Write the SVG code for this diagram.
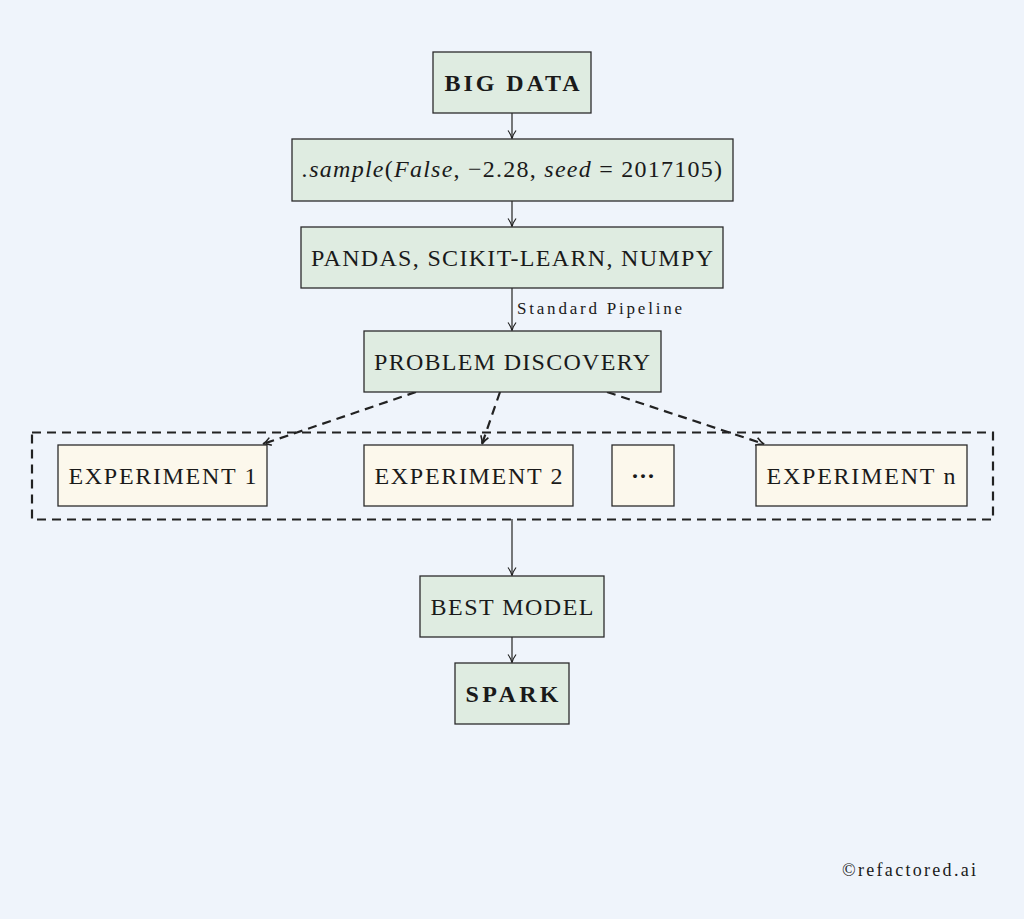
<svg xmlns="http://www.w3.org/2000/svg" width="1024" height="919" viewBox="0 0 1024 919">
<style>
.g{fill:#dfece1;stroke:#2b2b2b;stroke-width:1.3}
.c{fill:#fcf8ec;stroke:#2b2b2b;stroke-width:1.3}
.t{font-family:"Liberation Serif","DejaVu Serif",serif;font-size:24px;fill:#1a1a1a;text-anchor:middle}
.b{font-weight:bold}
.e{stroke:#222;stroke-width:1.2;fill:none}
.d{stroke:#222;stroke-width:2.2;fill:none;stroke-dasharray:9,6}
</style>
<defs>
<marker id="ar" viewBox="0 0 10 10" refX="9" refY="5" markerWidth="10" markerHeight="10" markerUnits="userSpaceOnUse" orient="auto">
<path d="M1,1 Q5,4 9,5 Q5,6 1,9" fill="none" stroke="#222" stroke-width="1.2"/>
</marker>
<marker id="ad" viewBox="0 0 10 10" refX="9" refY="5" markerWidth="10" markerHeight="10" markerUnits="userSpaceOnUse" orient="auto">
<path d="M1,1 Q5,4 9,5 Q5,6 1,9" fill="none" stroke="#222" stroke-width="1.6"/>
</marker>
</defs>
<rect width="1024" height="919" fill="#eff4fb"/>
<g id="connectors">
<line class="e" x1="512" y1="113" x2="512" y2="138.5" marker-end="url(#ar)"/>
<line class="e" x1="512" y1="201" x2="512" y2="226.5" marker-end="url(#ar)"/>
<line class="e" x1="512" y1="288" x2="512" y2="330.5" marker-end="url(#ar)"/>
<text x="517" y="314" textLength="165" lengthAdjust="spacing" style="font-family:'Liberation Serif','DejaVu Serif',serif;font-size:17px;fill:#1a1a1a">Standard Pipeline</text>
<line class="d" x1="416" y1="392" x2="263" y2="444" marker-end="url(#ad)"/>
<line class="d" x1="500" y1="392" x2="482" y2="444" marker-end="url(#ad)"/>
<line class="d" x1="607" y1="392" x2="764" y2="444" marker-end="url(#ad)"/>
<line class="e" x1="512" y1="519" x2="512" y2="575.5" marker-end="url(#ar)"/>
<line class="e" x1="512" y1="637" x2="512" y2="662.5" marker-end="url(#ar)"/>
</g>
<g id="container"><rect x="32" y="432.5" width="961" height="87" class="d"/></g>
<g id="bigdata"><rect class="g" x="433" y="52" width="158" height="61"/><text class="t b" x="512" y="90.5" textLength="135" lengthAdjust="spacing">BIG DATA</text></g>
<g id="sample"><rect class="g" x="292" y="139" width="441" height="62"/><text class="t" x="512" y="177" textLength="420" lengthAdjust="spacing"><tspan font-style="italic">.sample</tspan>(<tspan font-style="italic">False</tspan>, −2.28, <tspan font-style="italic">seed</tspan> = 2017105)</text></g>
<g id="pandas"><rect class="g" x="301" y="227" width="422" height="61"/><text class="t" x="512" y="265.5" textLength="402" lengthAdjust="spacing">PANDAS, SCIKIT-LEARN, NUMPY</text></g>
<g id="problem"><rect class="g" x="364" y="331" width="297" height="61"/><text class="t" x="512" y="369.5" textLength="276" lengthAdjust="spacing">PROBLEM DISCOVERY</text></g>
<g id="exp1"><rect class="c" x="58" y="445" width="209" height="61"/><text class="t" x="162.5" y="483.5" textLength="188" lengthAdjust="spacing">EXPERIMENT 1</text></g>
<g id="exp2"><rect class="c" x="364" y="445" width="209" height="61"/><text class="t" x="468.5" y="483.5" textLength="188" lengthAdjust="spacing">EXPERIMENT 2</text></g>
<g id="dots"><rect class="c" x="612" y="445" width="62" height="61"/><text class="t b" x="643" y="483.5">···</text></g>
<g id="expn"><rect class="c" x="756" y="445" width="211" height="61"/><text class="t" x="861" y="483.5" textLength="189" lengthAdjust="spacing">EXPERIMENT n</text></g>
<g id="best"><rect class="g" x="420" y="576" width="184" height="61"/><text class="t" x="512" y="614.5" textLength="163" lengthAdjust="spacing">BEST MODEL</text></g>
<g id="spark"><rect class="g" x="455" y="663" width="114" height="61"/><text class="t b" x="512" y="701.5" textLength="93" lengthAdjust="spacing">SPARK</text></g>
<text x="842" y="876" textLength="134" lengthAdjust="spacing" style="font-family:'Liberation Serif','DejaVu Serif',serif;font-size:18px;fill:#1a1a1a">©refactored.ai</text>
</svg>
